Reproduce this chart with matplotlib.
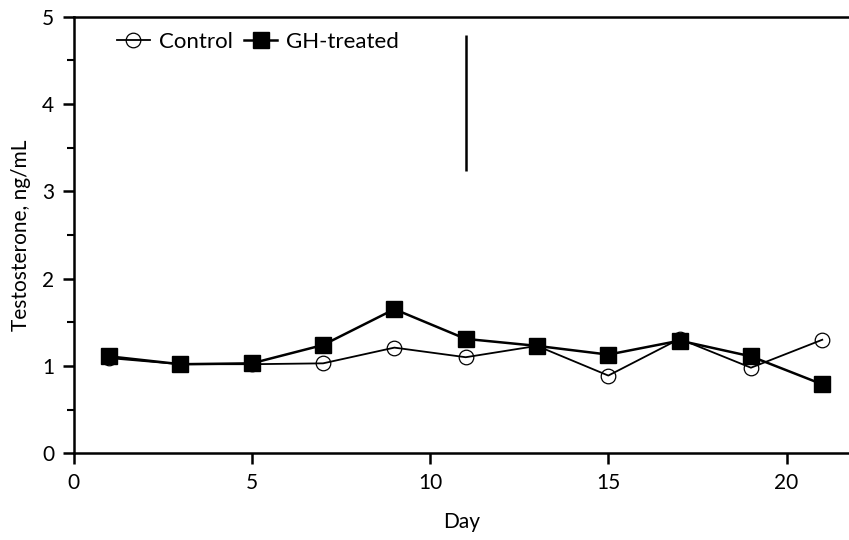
import matplotlib
matplotlib.use("Agg")
import matplotlib.pyplot as plt
from matplotlib.ticker import MultipleLocator

days = [1, 3, 5, 7, 9, 11, 13, 15, 17, 19, 21]
control = [1.09, 1.02, 1.02, 1.03, 1.21, 1.10, 1.23, 0.89, 1.31, 0.98, 1.30]
gh_treated = [1.11, 1.02, 1.03, 1.24, 1.65, 1.31, 1.23, 1.13, 1.29, 1.11, 0.79]
marker_day = 11
marker_span = (3.23, 4.79)

plt.rcParams['font.family'] = ['Lato', 'DejaVu Sans']

fig = plt.figure(figsize=(8.49, 5.4), dpi=100)
ax = fig.add_axes([73.5 / 849, 1 - 453.3 / 540, 1 - 73.5 / 849, 436.7 / 540])

ax.plot(days, control, color='black', lw=1.3, marker='o', ms=10.5,
        mfc='none', mec='black', mew=0.9, label='Control', zorder=3)
ax.plot(days, gh_treated, color='black', lw=1.8, marker='s', ms=11,
        mfc='black', mec='black', label='GH-treated', zorder=4)

ax.vlines(marker_day, *marker_span, color='black', lw=1.8)

ax.set_xlim(0, 21.75)
ax.set_ylim(0, 5)
ax.xaxis.set_major_locator(MultipleLocator(5))
ax.yaxis.set_major_locator(MultipleLocator(1))
ax.yaxis.set_minor_locator(MultipleLocator(0.5))

for side in ('left', 'bottom', 'top'):
    ax.spines[side].set_linewidth(1.8)
ax.spines['right'].set_visible(False)
ax.tick_params(which='major', direction='out', length=8, width=1.8,
               labelsize=15, pad=6)
ax.tick_params(which='minor', direction='out', length=5, width=1.5)
ax.tick_params(axis='x', which='minor', bottom=False)

ax.set_xlabel('Day', fontsize=15, labelpad=14)
ax.set_ylabel('Testosterone, ng/mL', fontsize=15, labelpad=8)

ax.legend(loc='upper left', bbox_to_anchor=(0.03, 1.01), ncol=2, frameon=False,
          fontsize=16, handlelength=1.5, handletextpad=0.4, columnspacing=0.5)

fig.savefig('out.png', dpi=100)
